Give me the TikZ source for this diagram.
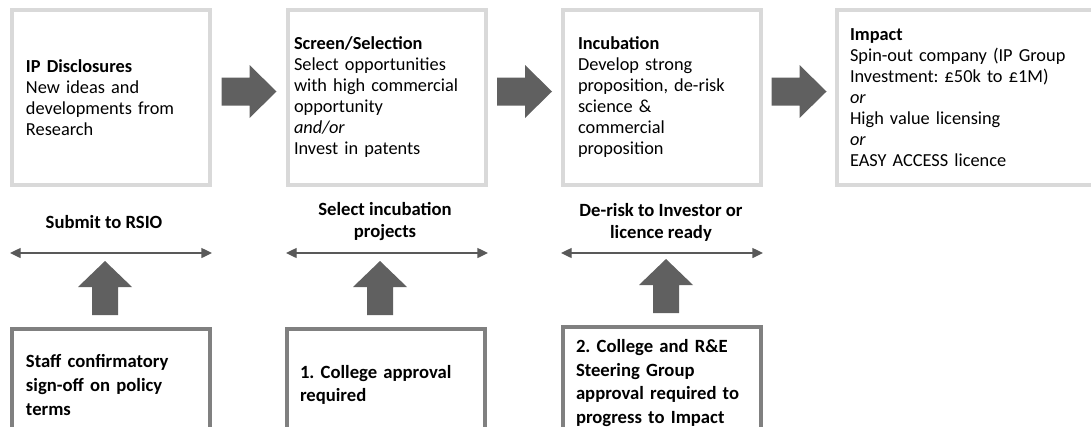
\documentclass[tikz,border=0pt]{standalone}
\usepackage{fontspec}
\setmainfont{Carlito}
\usetikzlibrary{arrows.meta,calc}
\definecolor{framegrey}{HTML}{D9D9D9}
\definecolor{gategrey}{HTML}{808080}
\definecolor{blockgrey}{HTML}{606060}
\definecolor{linegrey}{HTML}{595959}
\begin{document}
\frenchspacing
\begin{tikzpicture}[x=0.75pt,y=-0.75pt,
  stage/.style={draw=framegrey,line width=3pt,minimum width=148.5pt,minimum height=131.25pt,
    align=left,inner xsep=0pt,font=\fontsize{13.75}{15.75}\selectfont},
  gate/.style={draw=gategrey,line width=3pt,minimum width=148.5pt,minimum height=84pt,
    align=left,inner xsep=0pt,font=\bfseries\fontsize{14}{17.75}\selectfont},
  task/.style={align=center,font=\bfseries\fontsize{14}{16.5}\selectfont},
  twoway/.style={{Triangle[length=8pt,width=7.5pt]}-{Triangle[length=8pt,width=7.5pt]},draw=linegrey,line width=1pt},
  blockarrow/.style={fill=blockgrey}]
\useasboundingbox (0,0) rectangle (1091,426);
\clip (0,0) rectangle (1091,426);

% stages
\node[stage,text width=127.5pt] (ip) at (111,97.5) {\textbf{IP Disclosures}\\New ideas and\\developments from\\Research};
\node[stage,text width=139.5pt] (screen) at (387,97.5) {\textbf{Screen/Selection}\\Select opportunities\\with high commercial\\opportunity\\\textit{and/or}\\Invest in patents};
\node[stage,text width=126pt] (incub) at (662,97.5) {\textbf{Incubation}\\Develop strong\\proposition, de-risk\\science \&\\commercial\\proposition};
\node[stage,minimum width=198pt,text width=178.5pt] (impact) at (969,97.5) {\textbf{Impact}\\Spin-out company (IP Group\\Investment: £50k to £1M)\\\textit{or}\\High value licensing\\\textit{or}\\EASY ACCESS licence};

% steps between
\node[task] (submit) at (104,222) {Submit to RSIO};
\node[task] (select) at (385,222) {Select incubation\\projects};
\node[task] (derisk) at (661,222) {De-risk to Investor or\\licence ready};

% approvals
\node[gate,text width=127.5pt] (staff) at (111,385) {Staff confirmatory\\sign-off on policy\\terms};
\node[gate,text width=129pt] (college) at (386,385) {1. College approval\\required};
\node[gate,text width=129pt] (steer) at (662,383) {2. College and R\&E\\Steering Group\\approval required to\\progress to Impact};

\foreach \a/\b in {ip/screen,screen/incub,incub/impact}
  \fill[blockarrow] ($(\a.east)!.5!(\b.west)$) ++(-27.5,-6) -- ++(0,-14) -- ++(28,0) -- ++(0,-12.5)
    -- ++(27,26.5) -- ++(-27,26.5) -- ++(0,-12.5) -- ++(-28,0) -- cycle;

\foreach \a in {ip,screen,incub}
  \draw[twoway] (\a.west |- 0,253) -- (\a.east |- 0,253);

\foreach \g/\dx in {staff/-6,college/-6,steer/4}
  \fill[blockarrow] (\g.north) ++(\dx,-12) -- ++(-13,0) -- ++(0,-28) -- ++(-14,0)
    -- ++(27,-26) -- ++(27,26) -- ++(-14,0) -- ++(0,28) -- cycle;

\end{tikzpicture}
\end{document}
